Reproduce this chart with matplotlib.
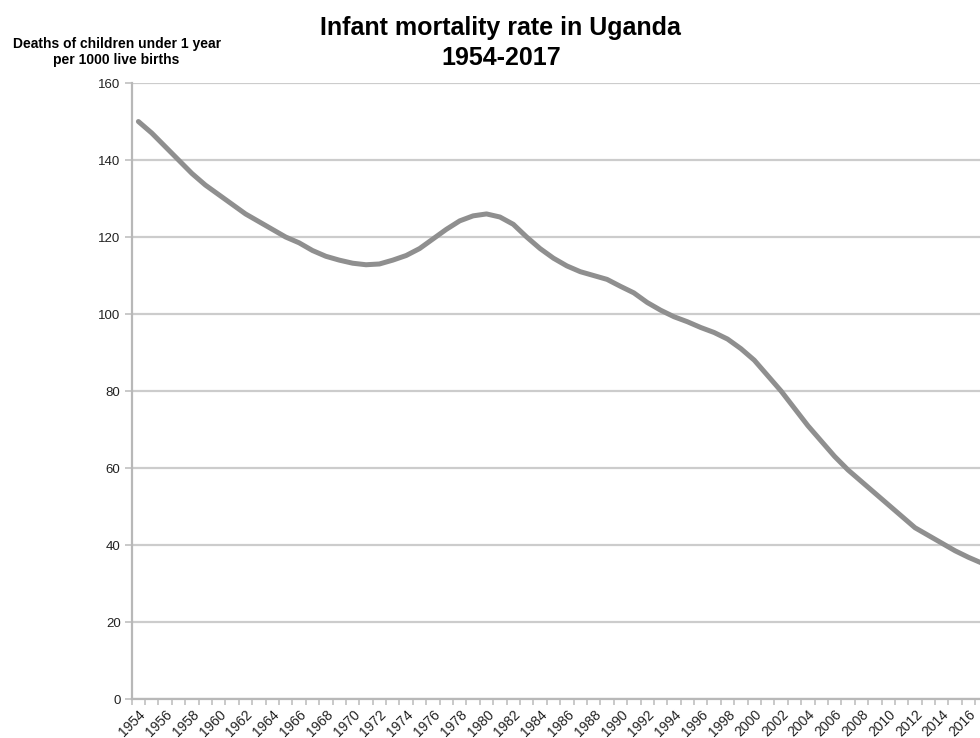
import numpy as np
import matplotlib
matplotlib.use("Agg")
import matplotlib.pyplot as plt

plt.rcParams["font.family"] = ["Liberation Sans", "DejaVu Sans"]

# Data
years = list(range(1954, 2018))
rate = [150.0, 147.0, 143.5, 140.0, 136.5, 133.5, 131.0, 128.5, 126.0, 124.0,
        122.0, 120.0, 118.5, 116.5, 115.0, 114.0, 113.2, 112.8, 113.0, 114.0,
        115.2, 117.0, 119.5, 122.0, 124.2, 125.5, 126.0, 125.2, 123.3, 120.0,
        117.0, 114.5, 112.5, 111.0, 110.0, 109.0, 107.2, 105.5, 103.0, 101.0,
        99.3, 98.0, 96.5, 95.2, 93.5, 91.0, 88.0, 84.0, 80.0, 75.5,
        71.0, 67.0, 63.0, 59.5, 56.5, 53.5, 50.5, 47.5, 44.5, 42.5,
        40.5, 38.5, 36.8, 35.3]
label_years = list(range(1954, 2017, 2))
y_ticks = [0, 20, 40, 60, 80, 100, 120, 140, 160]

fig = plt.figure(figsize=(9.8, 7.38), dpi=100)
ax = fig.add_axes([0.1344, 0.0528, 0.8744, 0.8347])

ax.plot(years, rate, color="#8f8f8f", linewidth=3.6, solid_capstyle="round",
        solid_joinstyle="round", zorder=3)

ax.set_xlim(1953.5, 2017.5)
ax.set_ylim(0, 160)
ax.set_yticks(y_ticks)
ax.yaxis.grid(True, color="#cccccc", linewidth=1.6)
ax.set_axisbelow(True)

ax.set_xticks(label_years)
ax.set_xticklabels([str(y) for y in label_years], rotation=45, ha="right",
                   rotation_mode="anchor", fontsize=10, color="#222222")
ax.set_xticks(np.arange(1953.5, 2018, 1), minor=True)
ax.tick_params(axis="x", which="major", length=0, pad=6)
ax.tick_params(axis="x", which="minor", length=4, width=1.2, color="#c0c0c0")
ax.tick_params(axis="y", length=5, width=1.2, color="#c0c0c0", labelsize=9.5,
               labelcolor="#222222", pad=3)

for side in ["top", "right"]:
    ax.spines[side].set_visible(False)
for side in ["left", "bottom"]:
    ax.spines[side].set_color("#b8b8b8")
    ax.spines[side].set_linewidth(1.6)

fig.text(0.511, 0.978, "Infant mortality rate in Uganda\n1954-2017",
         ha="center", va="top", fontsize=18, fontweight="bold",
         linespacing=1.3)
fig.text(0.119, 0.950, "Deaths of children under 1 year\nper 1000 live births",
         ha="center", va="top", fontsize=10, fontweight="bold",
         linespacing=1.15)

fig.savefig("out.png", dpi=100)
